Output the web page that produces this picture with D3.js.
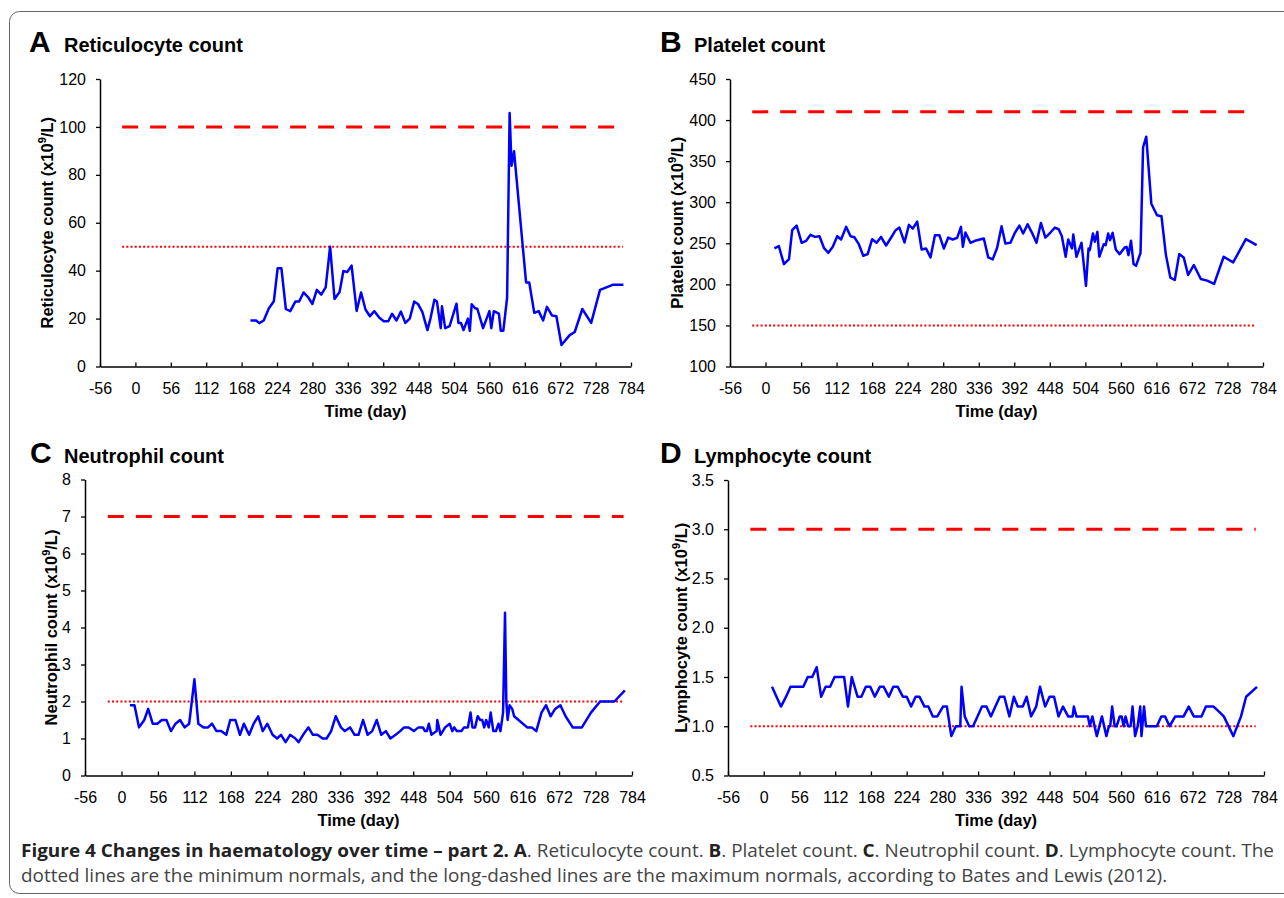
<!DOCTYPE html>
<html>
<head>
<meta charset="utf-8">
<script src="https://cdn.jsdelivr.net/npm/d3@7/dist/d3.min.js"></script>
<style>
  body { margin: 0; background: #fff; }
  svg text.arial { font-family: "Liberation Sans", Arial, Helvetica, sans-serif; }
  svg text.caption { font-family: "Open Sans", "Noto Sans", sans-serif; }
</style>
</head>
<body>
<div id="chart"></div>
<script>
// ---- data ----
var dayTicks = [-56, 0, 56, 112, 168, 224, 280, 336, 392, 448, 504, 560, 616, 672, 728, 784];
var refStart = -21, refEnd = 771;   // normal-range lines span

// A. reticulocytes
var retDays = [182,191,196,203,211,219,225,231,238,245,253,259,266,273,280,287,294,301,308,315,323,329,335,342,350,357,364,371,378,386,393,400,406,413,420,427,434,441,447,454,462,467,473,477,483,485,490,497,508,511,515,519,526,529,532,537,541,550,560,563,567,575,578,582,588,592,595,599,618,623,631,638,645,651,659,666,674,687,695,707,721,735,755,772];
var retVals = [19.2,19.2,18.1,19.2,24.2,27.2,41,41,24,23.1,27.1,27.1,30.9,29,26.1,32,30,33,50,28.2,31.1,39.9,39.4,42.1,23.2,30.9,23.8,21,23.1,20.3,18.9,18.9,22,19.2,22.9,18.2,20,27.1,26.1,22.7,15.2,20.3,27.9,27.1,16,25.1,16,16.9,26.2,18.2,18.2,15.2,20,14.9,26,24.4,24,16,23.1,16,23.1,22.1,14.9,14.9,28.7,105.8,83.8,89.8,35.1,35.1,22.4,23.1,19.2,24.9,21.3,21,9,13.1,14.4,24,18.2,32,34.1,34.1];
var retMin = 50, retMax = 100;
var retTicks = [0, 20, 40, 60, 80, 100, 120];

// B. platelets
var pltDays = [14,21,29,37,42,49,57,64,71,78,85,92,99,106,113,119,127,134,140,147,154,161,168,175,182,190,198,205,211,219,226,232,239,246,253,260,267,274,281,288,295,302,308,311,315,323,330,344,351,358,365,372,378,386,393,400,406,413,420,427,434,441,449,456,462,467,473,477,483,485,490,498,505,509,511,516,519,523,526,533,536,540,543,547,552,558,566,569,572,576,580,584,591,595,600,608,617,624,631,638,645,652,659,666,675,686,696,707,722,737,757,774];
var pltVals = [243.7,246.5,224.7,230.8,265.9,271.6,250.6,253,260.3,257.8,258.6,244.5,238.4,245.7,258.6,254.6,270,258.6,257.4,248.9,234.8,236.8,255,250.6,257.8,247.3,257,265.9,269.1,251,272.4,267.9,276.4,242.5,243.7,232.8,259.9,259.9,243.7,257,254.6,256.6,270,245.7,263.1,250.6,253,255.8,232.8,230.4,244.5,270.8,249.8,250.6,262.7,271.6,261.9,273.2,262.7,250.6,274.8,257,263.1,269.1,267.1,258.6,233.6,254.6,243.7,260.7,233.6,250.6,198.1,243.7,241.7,261.9,251.8,263.9,233.6,248.9,247.7,261.9,253.8,262.7,242.5,236.8,244.9,245.7,235.6,253,224.7,222.7,238.4,366.9,379.8,298.2,284.1,282.9,235.6,208.2,205.3,236.8,232.8,211.4,223.5,206.5,204.5,200.5,233.6,226.7,255,247.7];
var pltMin = 150, pltMax = 410;
var pltTicks = [100, 150, 200, 250, 300, 350, 400, 450];

// C. neutrophils
var neuDays = [13,20,27,35,41,48,55,62,69,76,83,90,97,104,112,118,126,133,139,146,153,161,167,175,182,188,196,203,210,217,224,232,239,245,252,259,267,272,279,287,294,301,309,315,322,329,337,343,351,358,364,371,378,385,392,399,406,413,421,428,434,441,449,456,463,466,469,472,476,484,485,490,497,504,508,511,515,522,526,532,536,539,543,547,551,554,557,560,564,567,571,575,579,582,586,589,591,593,596,600,603,623,630,637,645,652,659,666,674,682,693,707,721,735,757,773];
var neuVals = [1.9,1.9,1.3,1.5,1.8,1.4,1.4,1.5,1.5,1.2,1.4,1.5,1.3,1.4,2.6,1.4,1.3,1.3,1.4,1.2,1.2,1.1,1.5,1.5,1.1,1.4,1.1,1.4,1.6,1.2,1.4,1.1,1.0,1.1,0.9,1.1,1.0,0.9,1.1,1.3,1.1,1.1,1.0,1.0,1.2,1.6,1.3,1.2,1.3,1.1,1.1,1.5,1.1,1.2,1.5,1.1,1.2,1.0,1.1,1.2,1.3,1.3,1.2,1.3,1.3,1.2,1.2,1.4,1.1,1.2,1.5,1.1,1.3,1.4,1.2,1.3,1.2,1.2,1.3,1.3,1.7,1.3,1.3,1.6,1.5,1.5,1.3,1.5,1.3,1.7,1.2,1.2,1.4,1.2,1.7,4.4,2.0,1.5,1.9,1.8,1.6,1.3,1.3,1.2,1.7,1.9,1.6,1.8,1.9,1.6,1.3,1.3,1.7,2.0,2.0,2.3];
var neuMin = 2, neuMax = 7;
var neuTicks = [0, 1, 2, 3, 4, 5, 6, 7, 8];

// D. lymphocytes
var lymDays = [13,20,27,35,42,62,69,76,83,90,97,104,111,126,132,138,147,153,160,167,174,182,188,196,203,210,218,224,231,238,244,252,258,265,272,281,287,294,301,308,310,315,322,328,335,342,349,356,363,370,377,385,392,398,406,412,419,427,433,441,448,455,462,469,477,484,486,490,508,511,515,522,530,537,541,543,546,550,553,558,561,564,567,571,575,578,582,586,590,592,596,599,616,623,629,636,645,658,666,674,686,693,705,713,721,736,748,756,773];
var lymVals = [1.4,1.3,1.2,1.3,1.4,1.4,1.5,1.5,1.6,1.3,1.4,1.4,1.5,1.5,1.2,1.5,1.3,1.3,1.4,1.4,1.3,1.4,1.4,1.3,1.4,1.4,1.3,1.3,1.2,1.3,1.3,1.2,1.2,1.1,1.1,1.2,1.2,0.9,1.0,1.0,1.4,1.1,1.0,1.0,1.1,1.2,1.2,1.1,1.2,1.3,1.3,1.1,1.3,1.2,1.2,1.3,1.1,1.2,1.4,1.2,1.3,1.3,1.1,1.2,1.1,1.1,1.2,1.1,1.1,1.0,1.1,0.9,1.1,0.9,1.0,1.0,1.2,1.0,1.0,1.1,1.1,1.0,1.1,1.0,1.0,1.2,0.9,1.0,1.2,0.9,1.2,1.0,1.0,1.1,1.1,1.0,1.1,1.1,1.2,1.1,1.1,1.2,1.2,1.15,1.1,0.9,1.1,1.3,1.4];
var lymMin = 1.0, lymMax = 3.0;
var lymTicks = [0.5, 1.0, 1.5, 2.0, 2.5, 3.0, 3.5];

// ---- layout ----
var width = 1284, height = 898;
var svg = d3.select("#chart").append("svg")
  .attr("width", width)
  .attr("height", height);

// figure frame
svg.append("rect")
  .attr("x", 9.5).attr("y", 11.5)
  .attr("width", 1300).attr("height", 882)
  .attr("rx", 10)
  .attr("fill", "none")
  .attr("stroke", "#666")
  .attr("stroke-width", 1);

var hyphenFmt = function(d) { return d < 0 ? "-" + Math.abs(d) : String(d); };

var panels = [
  {letter: "A", title: "Reticulocyte count", ylab: "Reticulocyte count (x10", days: retDays, vals: retVals,
   lo: retMin, hi: retMax, ticks: retTicks, fmt: d3.format("d"),
   left: 100, right: 631, top: 79, bottom: 366.5, letterX: 29, titleX: 64, titleY: 52, ylabX: 47},
  {letter: "B", title: "Platelet count", ylab: "Platelet count (x10", days: pltDays, vals: pltVals,
   lo: pltMin, hi: pltMax, ticks: pltTicks, fmt: d3.format("d"),
   left: 730, right: 1263, top: 79, bottom: 366.5, letterX: 660, titleX: 694, titleY: 52, ylabX: 677},
  {letter: "C", title: "Neutrophil count", ylab: "Neutrophil count (x10", days: neuDays, vals: neuVals,
   lo: neuMin, hi: neuMax, ticks: neuTicks, fmt: d3.format("d"),
   left: 85, right: 632, top: 479.5, bottom: 775.5, letterX: 30, titleX: 64, titleY: 463, ylabX: 51},
  {letter: "D", title: "Lymphocyte count", ylab: "Lymphocyte count (x10", days: lymDays, vals: lymVals,
   lo: lymMin, hi: lymMax, ticks: lymTicks, fmt: d3.format(".1f"),
   left: 728, right: 1264, top: 480, bottom: 775.5, letterX: 660, titleX: 694, titleY: 463, ylabX: 681}
];

panels.forEach(drawPanel);

function drawPanel(p) {
  var x = d3.scaleLinear().domain([dayTicks[0], dayTicks[dayTicks.length - 1]]).range([p.left, p.right]);
  var y = d3.scaleLinear().domain([p.ticks[0], p.ticks[p.ticks.length - 1]]).range([p.bottom, p.top]);

  var g = svg.append("g");

  // titles
  g.append("text").attr("class", "arial")
    .attr("x", p.letterX).attr("y", p.titleY)
    .attr("font-size", 30).attr("font-weight", "bold")
    .text(p.letter);
  g.append("text").attr("class", "arial")
    .attr("x", p.titleX).attr("y", p.titleY)
    .attr("font-size", 20).attr("font-weight", "bold")
    .text(p.title);

  // axes
  var xAxis = g.append("g")
    .attr("transform", "translate(0," + p.bottom + ")")
    .call(d3.axisBottom(x).tickValues(dayTicks).tickSizeInner(-4).tickSizeOuter(0).tickPadding(16).tickFormat(hyphenFmt));
  var yAxis = g.append("g")
    .attr("transform", "translate(" + p.left + ",0)")
    .call(d3.axisLeft(y).tickValues(p.ticks).tickSizeInner(4).tickSizeOuter(0).tickPadding(10).tickFormat(p.fmt));

  [xAxis, yAxis].forEach(function(a) {
    a.select(".domain").attr("stroke", "#000").attr("stroke-width", 1.5);
    a.selectAll(".tick line").attr("stroke", "#000").attr("stroke-width", 1.3);
    a.selectAll(".tick text").attr("class", "arial").attr("font-size", 16).attr("fill", "#000");
  });

  // axis titles
  g.append("text").attr("class", "arial")
    .attr("x", (p.left + p.right) / 2).attr("y", p.bottom + 50)
    .attr("text-anchor", "middle")
    .attr("font-size", 16.5).attr("font-weight", "bold")
    .text("Time (day)");

  var yl = g.append("text").attr("class", "arial")
    .attr("transform", "translate(" + p.ylabX + "," + ((p.top + p.bottom) / 2) + ") rotate(-90)")
    .attr("text-anchor", "middle")
    .attr("dy", "0.36em")
    .attr("font-size", 16.5).attr("font-weight", "bold");
  yl.append("tspan").text(p.ylab);
  yl.append("tspan").attr("font-size", 11).attr("dy", "-0.6em").text("9");
  yl.append("tspan").attr("dy", "0.4em").text("/L)");

  // normal ranges
  g.append("line")
    .attr("x1", x(refStart)).attr("x2", x(refEnd))
    .attr("y1", y(p.hi)).attr("y2", y(p.hi))
    .attr("stroke", "#ff0000").attr("stroke-width", 3)
    .attr("stroke-dasharray", "16,12");
  g.append("line")
    .attr("x1", x(refStart)).attr("x2", x(refEnd))
    .attr("y1", y(p.lo)).attr("y2", y(p.lo))
    .attr("stroke", "#ff0000").attr("stroke-width", 2)
    .attr("stroke-dasharray", "2,2.2");

  // series
  var pts = p.days.map(function(d, i) { return [d, p.vals[i]]; });
  var line = d3.line()
    .x(function(d) { return x(d[0]); })
    .y(function(d) { return y(d[1]); });
  g.append("path")
    .datum(pts)
    .attr("d", line)
    .attr("fill", "none")
    .attr("stroke", "#0000ff")
    .attr("stroke-width", 2.5)
    .attr("stroke-linejoin", "round");
}

// caption
var cap = svg.append("g")
  .attr("font-size", 17.5)
  .attr("fill", "#333");

var line1 = cap.append("text").attr("class", "caption").attr("x", 21).attr("y", 857);
[["Figure 4 Changes in haematology over time \u2013 part 2. A", true], [". Reticulocyte count. ", false],
 ["B", true], [". Platelet count. ", false], ["C", true], [". Neutrophil count. ", false],
 ["D", true], [". Lymphocyte count. The", false]].forEach(function(s) {
  line1.append("tspan").attr("font-weight", s[1] ? "bold" : "normal")
    .attr("fill", s[1] ? "#222" : "#444").text(s[0]);
});

var line2 = cap.append("text").attr("class", "caption").attr("x", 21).attr("y", 882)
  .attr("fill", "#444")
  .text("dotted lines are the minimum normals, and the long-dashed lines are the maximum normals, according to Bates and Lewis (2012).");

// squeeze both caption lines by the same factor so line 1 fills the box width
var squeeze = 1253 / line1.node().getComputedTextLength();
line1.attr("textLength", 1253).attr("lengthAdjust", "spacingAndGlyphs");
line2.attr("textLength", line2.node().getComputedTextLength() * squeeze).attr("lengthAdjust", "spacingAndGlyphs");
</script>
</body>
</html>
